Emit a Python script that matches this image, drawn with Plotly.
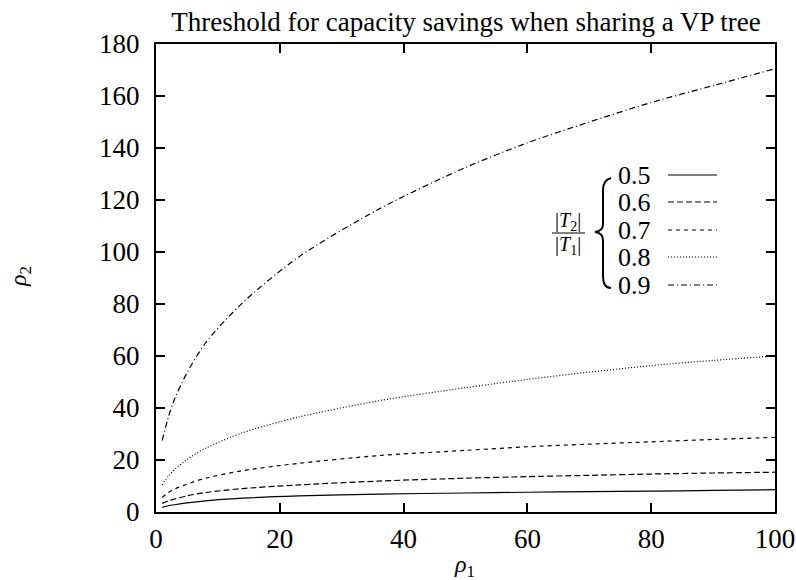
import plotly.graph_objects as go

# ---- data ----
rho1 = [1, 2, 3, 5, 8, 14, 23, 36, 50, 60, 70, 80, 90, 100]
ratio_labels = ["0.5", "0.6", "0.7", "0.8", "0.9"]
rho2_05 = [1.8, 2.4, 2.8, 3.5, 4.3, 5.3, 6.2, 6.9, 7.3, 7.6, 7.8, 8.0, 8.3, 8.6]
rho2_06 = [3.3, 4.3, 5.0, 6.2, 7.5, 9.0, 10.4, 11.9, 13.0, 13.6, 14.1, 14.6, 15.0, 15.3]
rho2_07 = [5.6, 7.5, 8.8, 10.7, 13.0, 15.9, 18.7, 21.7, 23.7, 25.1, 26.1, 27.0, 27.9, 28.7]
rho2_08 = [10.4, 13.8, 16.3, 20.2, 24.5, 30.5, 36.5, 42.8, 47.8, 51.0, 53.8, 56.3, 58.3, 60.0]
rho2_09 = [27.5, 36.5, 43.5, 53.5, 65.0, 80.5, 98.0, 116.5, 132.5, 142.0, 150.0, 157.5, 164.0, 170.5]
x_ticks = [0, 20, 40, 60, 80, 100]
y_ticks = [0, 20, 40, 60, 80, 100, 120, 140, 160, 180]

series = [rho2_05, rho2_06, rho2_07, rho2_08, rho2_09]
dashes = ["solid", "6px,3px", "4px,4px", "1px,2px", "6px,3px,1px,3px"]

W, H = 796, 580
L, R, T, B = 156, 21, 44, 68
PW, PH = W - L - R, H - T - B
FONT = "Liberation Serif, Times New Roman, Times, serif"


def px(x):
    return (x - L) / PW


def py(y):
    return (H - B - y) / PH


fig = go.Figure()
for ys, d, lab in zip(series, dashes, ratio_labels):
    fig.add_trace(go.Scatter(x=rho1, y=ys, mode="lines", name=lab,
                             line=dict(color="black", width=1.2, dash=d,
                                       shape="spline", smoothing=0.8),
                             showlegend=False, cliponaxis=False))

shapes = []
annotations = []
# custom legend: label left, sample right
leg_y = [175, 202, 230, 257, 285]
for lab, d, yy in zip(ratio_labels, dashes, leg_y):
    annotations.append(dict(x=px(616), y=py(yy), xref="paper", yref="paper", text=lab,
                            showarrow=False, xanchor="left", yanchor="middle",
                            font=dict(family=FONT, size=26, color="black")))
    shapes.append(dict(type="line", xref="paper", yref="paper",
                       x0=px(668), x1=px(717), y0=py(yy), y1=py(yy),
                       line=dict(color="black", width=1.2, dash=d)))

# brace
pts = [(611, 178), (603, 180), (603, 190), (603, 224), (595, 232), (603, 240), (603, 276), (603, 286), (611, 288)]
P = [(px(a), py(b)) for a, b in pts]
path = (f"M {P[0][0]},{P[0][1]} Q {P[1][0]},{P[1][1]} {P[2][0]},{P[2][1]} "
        f"L {P[3][0]},{P[3][1]} Q {P[3][0]},{py(231)} {P[4][0]},{P[4][1]} "
        f"Q {P[5][0]},{py(233)} {P[5][0]},{P[5][1]} "
        f"L {P[6][0]},{P[6][1]} Q {P[7][0]},{P[8][1]} {P[8][0]},{P[8][1]}")
shapes.append(dict(type="path", xref="paper", yref="paper", path=path,
                   line=dict(color="black", width=2)))

# fraction |T2| / |T1|
annotations.append(dict(x=px(568), y=py(221), xref="paper", yref="paper",
                        text="|<i>T</i><sub>2</sub>|", showarrow=False,
                        xanchor="center", yanchor="middle",
                        font=dict(family=FONT, size=20, color="black")))
annotations.append(dict(x=px(568), y=py(245), xref="paper", yref="paper",
                        text="|<i>T</i><sub>1</sub>|", showarrow=False,
                        xanchor="center", yanchor="middle",
                        font=dict(family=FONT, size=20, color="black")))
shapes.append(dict(type="line", xref="paper", yref="paper",
                   x0=px(552), x1=px(585), y0=py(233), y1=py(233),
                   line=dict(color="black", width=1)))

# axis titles
annotations.append(dict(x=px(20), y=py(277), xref="paper", yref="paper",
                        text="<i>ρ</i><sub>2</sub>", showarrow=False, textangle=-90,
                        xanchor="center", yanchor="middle",
                        font=dict(family=FONT, size=24, color="black")))
annotations.append(dict(x=px(464), y=py(566), xref="paper", yref="paper",
                        text="<i>ρ</i><sub>1</sub>", showarrow=False,
                        xanchor="center", yanchor="middle",
                        font=dict(family=FONT, size=24, color="black")))

axis_common = dict(showgrid=False, zeroline=False, showline=True, linecolor="black",
                   linewidth=2, mirror="ticks", ticks="inside", ticklen=9, tickwidth=2,
                   tickcolor="black", automargin=False,
                   tickfont=dict(family=FONT, size=27, color="black"))

fig.update_layout(
    width=W, height=H,
    margin=dict(l=L, r=R, t=T, b=B, autoexpand=False),
    paper_bgcolor="white", plot_bgcolor="white",
    font=dict(family=FONT, color="black"),
    title=dict(text="Threshold for capacity savings when sharing a VP tree",
               x=466 / W, xref="container", xanchor="center",
               y=1 - 22 / H, yanchor="middle",
               font=dict(family=FONT, size=27, color="black")),
    xaxis=dict(range=[0, 100], tickvals=x_ticks, ticktext=[str(v) for v in x_ticks],
               ticklabelstandoff=2, **axis_common),
    yaxis=dict(range=[0, 180], tickvals=y_ticks, ticktext=[str(v) for v in y_ticks],
               ticklabelstandoff=9, **axis_common),
    shapes=shapes, annotations=annotations,
)
fig.write_html("out.html")
